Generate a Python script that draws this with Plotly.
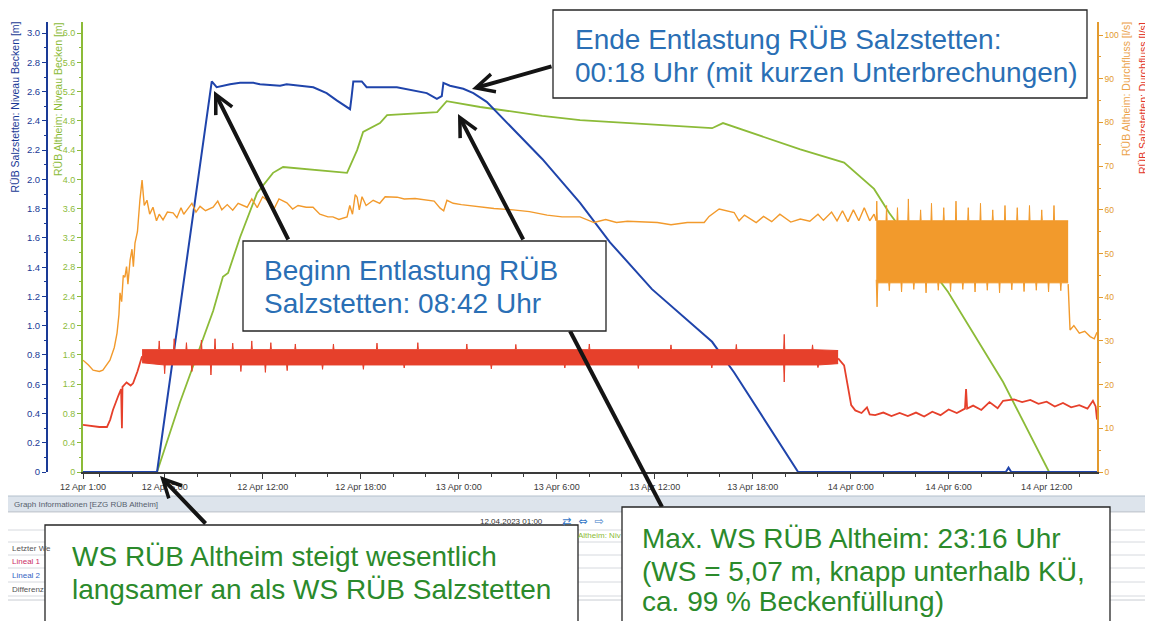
import plotly.graph_objects as go

# values (12.-14.04.2023)

# RÜB Salzstetten: Niveau Becken [m]
salz_level_time = [
    "2023-04-12 01:00", "2023-04-12 05:32", "2023-04-12 08:53", "2023-04-12 09:11",
    "2023-04-12 10:00", "2023-04-12 10:37", "2023-04-12 11:26", "2023-04-12 11:50",
    "2023-04-12 13:04", "2023-04-12 13:28", "2023-04-12 15:06", "2023-04-12 15:55",
    "2023-04-12 16:32", "2023-04-12 17:09", "2023-04-12 17:21", "2023-04-12 17:27",
    "2023-04-12 17:33", "2023-04-12 18:04", "2023-04-12 18:22", "2023-04-12 20:13",
    "2023-04-12 21:14", "2023-04-12 22:03", "2023-04-12 22:40", "2023-04-12 22:58",
    "2023-04-12 23:04", "2023-04-12 23:28", "2023-04-13 00:17", "2023-04-13 00:54",
    "2023-04-13 01:43", "2023-04-13 05:07", "2023-04-13 07:26", "2023-04-13 09:16",
    "2023-04-13 11:50", "2023-04-13 15:31", "2023-04-13 16:52", "2023-04-13 20:47",
    "2023-04-14 09:30", "2023-04-14 09:40", "2023-04-14 09:50", "2023-04-14 15:05",
]
salz_level = [
    0, 0, 2.67, 2.63, 2.65, 2.66, 2.66, 2.65, 2.64, 2.65, 2.63, 2.59, 2.54, 2.49,
    2.48, 2.57, 2.67, 2.67, 2.63, 2.63, 2.61, 2.59, 2.55, 2.57, 2.66, 2.64, 2.62,
    2.59, 2.53, 2.14, 1.84, 1.57, 1.25, 0.89, 0.68, 0, 0, 0.03, 0, 0,
]

# RÜB Altheim: Niveau Becken [m]
alt_level_time = [
    "2023-04-12 01:00", "2023-04-12 05:32", "2023-04-12 06:56", "2023-04-12 08:58",
    "2023-04-12 09:34", "2023-04-12 09:53", "2023-04-12 10:37", "2023-04-12 11:39",
    "2023-04-12 12:38", "2023-04-12 13:15", "2023-04-12 17:10", "2023-04-12 17:47",
    "2023-04-12 18:09", "2023-04-12 19:11", "2023-04-12 19:37", "2023-04-12 22:41",
    "2023-04-12 23:16", "2023-04-13 01:19", "2023-04-13 05:07", "2023-04-13 07:26",
    "2023-04-13 15:31", "2023-04-13 16:11", "2023-04-13 20:55", "2023-04-13 23:36",
    "2023-04-14 01:26", "2023-04-14 02:22", "2023-04-14 05:58", "2023-04-14 09:20",
    "2023-04-14 12:09", "2023-04-14 15:05",
]
alt_level = [
    0, 0, 0.95, 2.2, 2.67, 2.72, 3.21, 3.81, 4.09, 4.17, 4.09, 4.40, 4.65, 4.77,
    4.88, 4.92, 5.07, 4.99, 4.87, 4.81, 4.70, 4.77, 4.41, 4.23, 3.87, 3.54, 2.46,
    1.23, 0, 0,
]

# RÜB Altheim: Durchfluss [l/s] - before the oscillating phase
alt_flow_time = [
    "2023-04-12 01:00", "2023-04-12 01:20", "2023-04-12 01:37", "2023-04-12 02:00",
    "2023-04-12 02:13", "2023-04-12 02:39", "2023-04-12 02:55", "2023-04-12 03:05",
    "2023-04-12 03:12", "2023-04-12 03:16", "2023-04-12 03:22", "2023-04-12 03:28",
    "2023-04-12 03:34", "2023-04-12 03:40", "2023-04-12 03:45", "2023-04-12 03:53",
    "2023-04-12 04:00", "2023-04-12 04:05", "2023-04-12 04:11", "2023-04-12 04:20",
    "2023-04-12 04:29", "2023-04-12 04:37", "2023-04-12 04:45", "2023-04-12 04:55",
    "2023-04-12 05:05", "2023-04-12 05:17", "2023-04-12 05:30", "2023-04-12 05:40",
    "2023-04-12 05:54", "2023-04-12 06:10", "2023-04-12 06:31", "2023-04-12 06:45",
    "2023-04-12 07:00", "2023-04-12 07:10", "2023-04-12 07:22", "2023-04-12 07:40",
    "2023-04-12 07:55", "2023-04-12 08:10", "2023-04-12 08:30", "2023-04-12 08:58",
    "2023-04-12 09:15", "2023-04-12 09:30", "2023-04-12 09:50", "2023-04-12 10:10",
    "2023-04-12 10:30", "2023-04-12 11:03", "2023-04-12 11:20", "2023-04-12 11:40",
    "2023-04-12 12:00", "2023-04-12 12:16", "2023-04-12 12:40", "2023-04-12 13:00",
    "2023-04-12 13:29", "2023-04-12 13:50", "2023-04-12 14:10", "2023-04-12 14:40",
    "2023-04-12 15:05", "2023-04-12 15:30", "2023-04-12 16:00", "2023-04-12 16:18",
    "2023-04-12 16:40", "2023-04-12 17:10", "2023-04-12 17:20", "2023-04-12 17:30",
    "2023-04-12 17:40", "2023-04-12 17:47", "2023-04-12 17:55", "2023-04-12 18:05",
    "2023-04-12 18:20", "2023-04-12 18:46", "2023-04-12 19:10", "2023-04-12 19:30",
    "2023-04-12 20:14", "2023-04-12 20:40", "2023-04-12 21:20", "2023-04-12 22:15",
    "2023-04-12 22:30", "2023-04-12 22:52", "2023-04-12 23:05", "2023-04-12 23:17",
    "2023-04-12 23:40", "2023-04-13 00:10", "2023-04-13 01:19", "2023-04-13 02:10",
    "2023-04-13 03:20", "2023-04-13 04:20", "2023-04-13 05:25", "2023-04-13 06:20",
    "2023-04-13 07:26", "2023-04-13 08:17", "2023-04-13 09:00", "2023-04-13 09:40",
    "2023-04-13 10:20", "2023-04-13 11:30", "2023-04-13 12:10", "2023-04-13 13:00",
    "2023-04-13 14:00", "2023-04-13 15:02", "2023-04-13 15:20", "2023-04-13 15:57",
    "2023-04-13 16:20", "2023-04-13 16:52", "2023-04-13 17:10", "2023-04-13 17:30",
    "2023-04-13 18:13", "2023-04-13 18:40", "2023-04-13 19:10", "2023-04-13 19:40",
    "2023-04-13 20:20", "2023-04-13 20:55", "2023-04-13 21:30", "2023-04-13 22:00",
    "2023-04-13 22:20", "2023-04-13 22:50", "2023-04-13 23:10", "2023-04-13 23:30",
    "2023-04-13 23:50", "2023-04-14 00:10", "2023-04-14 00:30", "2023-04-14 00:50",
    "2023-04-14 01:10", "2023-04-14 01:26", "2023-04-14 01:34",
]
alt_flow = [
    25.6, 24.5, 23.3, 23.0, 23.3, 25.6, 28.5, 31.8, 36, 41.0, 39, 45, 44.6, 47, 43,
    48.5, 51, 47, 52.4, 55, 62.2, 66.8, 61, 62.2, 59, 60.6, 57.5, 59, 57.7, 59.5,
    59.3, 58.2, 60.5, 59, 60.0, 61.5, 59.5, 60.8, 59.8, 60.6, 62, 60, 61.2, 59.9,
    61.5, 60.6, 62.5, 60.5, 63, 62.2, 60, 62.5, 61.6, 60.2, 61, 60.6, 60.6, 59,
    58.4, 58.4, 57.8, 58.4, 61, 59, 63.5, 62.9, 60, 63, 61, 62.2, 61.5, 63, 62.9,
    62.5, 62.6, 62.2, 62, 60.4, 59.8, 62.2, 61.5, 61.2, 60.6, 60.3, 60.0, 59.6,
    58.8, 58.4, 58.4, 57.1, 57.8, 57.1, 57.4, 57.1, 57.1, 56.6, 57.1, 57.1, 58.5,
    60.2, 59.8, 59.4, 57.5, 58.8, 57.1, 58.5, 57.3, 59, 57.2, 57.9, 57.4, 59, 57.6,
    59.5, 57.5, 59.8, 57.3, 60, 57.5, 60.5, 57.5, 59, 57.5,
]

# RÜB Altheim: Durchfluss - oscillating phase, upper / lower envelope
alt_band_hi_time = [
    "2023-04-14 01:34", "2023-04-14 01:36", "2023-04-14 01:38",
    "2023-04-14 02:10", "2023-04-14 02:12", "2023-04-14 02:14",
    "2023-04-14 02:50", "2023-04-14 02:52", "2023-04-14 02:54",
    "2023-04-14 03:30", "2023-04-14 03:32", "2023-04-14 03:34",
    "2023-04-14 04:15", "2023-04-14 04:17", "2023-04-14 04:19",
    "2023-04-14 04:55", "2023-04-14 04:57", "2023-04-14 04:59",
    "2023-04-14 05:40", "2023-04-14 05:42", "2023-04-14 05:44",
    "2023-04-14 06:25", "2023-04-14 06:27", "2023-04-14 06:29",
    "2023-04-14 07:10", "2023-04-14 07:12", "2023-04-14 07:14",
    "2023-04-14 07:55", "2023-04-14 07:57", "2023-04-14 07:59",
    "2023-04-14 08:40", "2023-04-14 08:42", "2023-04-14 08:44",
    "2023-04-14 09:25", "2023-04-14 09:27", "2023-04-14 09:29",
    "2023-04-14 10:10", "2023-04-14 10:12", "2023-04-14 10:14",
    "2023-04-14 10:55", "2023-04-14 10:57", "2023-04-14 10:59",
    "2023-04-14 11:40", "2023-04-14 11:42", "2023-04-14 11:44",
    "2023-04-14 12:25", "2023-04-14 12:27", "2023-04-14 12:29",
    "2023-04-14 13:19",
]
alt_band_hi = [
    57.5, 62, 57.5, 57.5, 61, 57.5, 57.5, 60.5, 57.5, 57.5, 62.5, 57.5,
    57.5, 60, 57.5, 57.5, 61.5, 57.5, 57.5, 60.5, 57.5, 57.5, 62, 57.5,
    57.5, 60.5, 57.5, 57.5, 61.5, 57.5, 57.5, 60, 57.5, 57.5, 61, 57.5,
    57.5, 60.5, 57.5, 57.5, 61, 57.5, 57.5, 60, 57.5, 57.5, 61, 57.5,
    57.5,
]
alt_band_lo_time = [
    "2023-04-14 01:34", "2023-04-14 01:37", "2023-04-14 01:40",
    "2023-04-14 02:20", "2023-04-14 02:22", "2023-04-14 02:24",
    "2023-04-14 03:05", "2023-04-14 03:07", "2023-04-14 03:09",
    "2023-04-14 03:50", "2023-04-14 03:52", "2023-04-14 03:54",
    "2023-04-14 04:35", "2023-04-14 04:37", "2023-04-14 04:39",
    "2023-04-14 05:20", "2023-04-14 05:22", "2023-04-14 05:24",
    "2023-04-14 06:05", "2023-04-14 06:07", "2023-04-14 06:09",
    "2023-04-14 06:50", "2023-04-14 06:52", "2023-04-14 06:54",
    "2023-04-14 07:35", "2023-04-14 07:37", "2023-04-14 07:39",
    "2023-04-14 08:20", "2023-04-14 08:22", "2023-04-14 08:24",
    "2023-04-14 09:05", "2023-04-14 09:07", "2023-04-14 09:09",
    "2023-04-14 09:50", "2023-04-14 09:52", "2023-04-14 09:54",
    "2023-04-14 10:35", "2023-04-14 10:37", "2023-04-14 10:39",
    "2023-04-14 11:20", "2023-04-14 11:22", "2023-04-14 11:24",
    "2023-04-14 12:05", "2023-04-14 12:07", "2023-04-14 12:09",
    "2023-04-14 12:50", "2023-04-14 12:52", "2023-04-14 12:54",
    "2023-04-14 13:19",
]
alt_band_lo = [
    44, 37.8, 43.3, 43.3, 41.5, 43.3, 43.3, 41.2, 43.3, 43.3, 41.8, 43.3,
    43.3, 41, 43.3, 43.3, 41.6, 43.3, 43.3, 41.3, 43.3, 43.3, 41.8, 43.3,
    43.3, 41.2, 43.3, 43.3, 41.6, 43.3, 43.3, 41, 43.3, 43.3, 41.7, 43.3,
    43.3, 41.3, 43.3, 43.3, 41.6, 43.3, 43.3, 41.2, 43.3, 43.3, 41.5, 43.3,
    43.3,
]

# RÜB Altheim: Durchfluss - after the oscillating phase
alt_flow_end_time = [
    "2023-04-14 13:19", "2023-04-14 13:26", "2023-04-14 13:40", "2023-04-14 14:00",
    "2023-04-14 14:20", "2023-04-14 14:40", "2023-04-14 14:55", "2023-04-14 15:05",
]
alt_flow_end = [43, 32.5, 33.5, 31.8, 32.2, 31, 30.5, 32]

# RÜB Salzstetten: Durchfluss [l/s] - start
salz_flow_time = [
    "2023-04-12 01:00", "2023-04-12 01:30", "2023-04-12 02:00", "2023-04-12 02:28",
    "2023-04-12 02:40", "2023-04-12 02:50", "2023-04-12 03:00", "2023-04-12 03:10",
    "2023-04-12 03:20", "2023-04-12 03:23", "2023-04-12 03:25", "2023-04-12 03:40",
    "2023-04-12 03:55", "2023-04-12 04:04", "2023-04-12 04:20", "2023-04-12 04:37",
]
salz_flow = [10.8, 10.5, 10.3, 10.3, 12, 14.2, 16, 17.5, 19, 10, 19.5, 20.5, 19.8, 20.3, 23, 26.5]

# RÜB Salzstetten: Durchfluss - noisy plateau, upper / lower envelope
salz_band_hi_time = [
    "2023-04-12 04:37",
    "2023-04-12 05:38", "2023-04-12 05:40", "2023-04-12 05:42",
    "2023-04-12 06:33", "2023-04-12 06:35", "2023-04-12 06:37",
    "2023-04-12 07:18", "2023-04-12 07:20", "2023-04-12 07:22",
    "2023-04-12 08:13", "2023-04-12 08:15", "2023-04-12 08:17",
    "2023-04-12 09:03", "2023-04-12 09:05", "2023-04-12 09:07",
    "2023-04-12 10:08", "2023-04-12 10:10", "2023-04-12 10:12",
    "2023-04-12 11:18", "2023-04-12 11:20", "2023-04-12 11:22",
    "2023-04-12 12:28", "2023-04-12 12:30", "2023-04-12 12:32",
    "2023-04-12 13:58", "2023-04-12 14:00", "2023-04-12 14:02",
    "2023-04-12 16:18", "2023-04-12 16:20", "2023-04-12 16:22",
    "2023-04-12 18:58", "2023-04-12 19:00", "2023-04-12 19:02",
    "2023-04-12 21:28", "2023-04-12 21:30", "2023-04-12 21:32",
    "2023-04-13 00:28", "2023-04-13 00:30", "2023-04-13 00:32",
    "2023-04-13 03:28", "2023-04-13 03:30", "2023-04-13 03:32",
    "2023-04-13 07:58", "2023-04-13 08:00", "2023-04-13 08:02",
    "2023-04-13 12:58", "2023-04-13 13:00", "2023-04-13 13:02",
    "2023-04-13 16:58", "2023-04-13 17:00", "2023-04-13 17:02",
    "2023-04-13 19:54", "2023-04-13 19:56", "2023-04-13 19:58",
    "2023-04-13 21:38", "2023-04-13 21:40", "2023-04-13 21:42",
    "2023-04-13 23:14",
]
salz_band_hi = [
    28,
    28, 30, 28, 28, 30.5, 28, 28, 29.6, 28, 28, 30.2, 28, 28, 30.5, 28,
    28, 29.5, 28, 28, 30, 28, 28, 29.6, 28, 28, 29.3, 28, 28, 29.3, 28,
    28, 29.5, 28, 28, 29.6, 28, 28, 29.3, 28, 28, 29.2, 28, 28, 29.3, 28,
    28, 29.1, 28, 28, 29.2, 28, 28, 31.5, 28, 28, 29.1, 28,
    27.8,
]
salz_band_lo_time = [
    "2023-04-12 04:37",
    "2023-04-12 05:58", "2023-04-12 06:00", "2023-04-12 06:02",
    "2023-04-12 07:38", "2023-04-12 07:40", "2023-04-12 07:42",
    "2023-04-12 08:48", "2023-04-12 08:50", "2023-04-12 08:52",
    "2023-04-12 10:38", "2023-04-12 10:40", "2023-04-12 10:42",
    "2023-04-12 12:08", "2023-04-12 12:10", "2023-04-12 12:12",
    "2023-04-12 13:28", "2023-04-12 13:30", "2023-04-12 13:32",
    "2023-04-12 15:38", "2023-04-12 15:40", "2023-04-12 15:42",
    "2023-04-12 18:08", "2023-04-12 18:10", "2023-04-12 18:12",
    "2023-04-12 20:38", "2023-04-12 20:40", "2023-04-12 20:42",
    "2023-04-13 01:58", "2023-04-13 02:00", "2023-04-13 02:02",
    "2023-04-13 06:28", "2023-04-13 06:30", "2023-04-13 06:32",
    "2023-04-13 10:58", "2023-04-13 11:00", "2023-04-13 11:02",
    "2023-04-13 15:28", "2023-04-13 15:30", "2023-04-13 15:32",
    "2023-04-13 19:54", "2023-04-13 19:56", "2023-04-13 19:58",
    "2023-04-13 21:58", "2023-04-13 22:00", "2023-04-13 22:02",
    "2023-04-13 23:14",
]
salz_band_lo = [
    25,
    24.5, 22.5, 24.5, 24.5, 23, 24.5, 24.5, 22.2, 24.5, 24.5, 23, 24.5,
    24.5, 22.8, 24.5, 24.5, 23.2, 24.5, 24.5, 23.5, 24.5, 24.5, 23.5, 24.5,
    24.5, 23.8, 24.5, 24.5, 23.6, 24.5, 24.5, 23.8, 24.5, 24.5, 23.7, 24.5,
    24.5, 23.8, 24.5, 24.5, 20.6, 24.5, 24.5, 23.9, 24.5,
    24.8,
]

# RÜB Salzstetten: Durchfluss - after the plateau
salz_flow_end_time = [
    "2023-04-13 23:14", "2023-04-13 23:36", "2023-04-14 00:02", "2023-04-14 00:17",
    "2023-04-14 00:40", "2023-04-14 01:00", "2023-04-14 01:10", "2023-04-14 01:30",
    "2023-04-14 02:00", "2023-04-14 02:30", "2023-04-14 03:00", "2023-04-14 03:30",
    "2023-04-14 04:00", "2023-04-14 04:30", "2023-04-14 05:00", "2023-04-14 05:30",
    "2023-04-14 06:00", "2023-04-14 06:30", "2023-04-14 07:00", "2023-04-14 07:04",
    "2023-04-14 07:08", "2023-04-14 07:30", "2023-04-14 08:00", "2023-04-14 08:30",
    "2023-04-14 09:00", "2023-04-14 09:20", "2023-04-14 10:00", "2023-04-14 10:30",
    "2023-04-14 11:00", "2023-04-14 11:30", "2023-04-14 12:00", "2023-04-14 12:30",
    "2023-04-14 13:00", "2023-04-14 13:30", "2023-04-14 14:00", "2023-04-14 14:30",
    "2023-04-14 14:50", "2023-04-14 15:00", "2023-04-14 15:05",
]
salz_flow_end = [
    26, 24.4, 15.3, 14.1, 13.5, 14.8, 13.2, 13, 13.6, 12.8, 13.5, 12.8, 13.6, 12.7,
    13.8, 13, 14.3, 13.5, 14.5, 19, 14.5, 15.2, 14.2, 16, 14.6, 16.3, 16.6, 16,
    16.5, 15.6, 16.1, 15, 15.8, 14.8, 15.3, 14.5, 16.3, 15, 12,
]

x_tick_time = [
    "2023-04-12 01:00", "2023-04-12 06:00", "2023-04-12 12:00", "2023-04-12 18:00",
    "2023-04-13 00:00", "2023-04-13 06:00", "2023-04-13 12:00", "2023-04-13 18:00",
    "2023-04-14 00:00", "2023-04-14 06:00", "2023-04-14 12:00",
]
x_tick_text = [
    "12 Apr 1:00", "12 Apr 6:00", "12 Apr 12:00", "12 Apr 18:00", "13 Apr 0:00",
    "13 Apr 6:00", "13 Apr 12:00", "13 Apr 18:00", "14 Apr 0:00", "14 Apr 6:00",
    "14 Apr 12:00",
]
salz_tick_text = ["0", "0.2", "0.4", "0.6", "0.8", "1.0", "1.2", "1.4", "1.6", "1.8",
                  "2.0", "2.2", "2.4", "2.6", "2.8", "3.0"]
alt_tick_text = ["0", "0.4", "0.8", "1.2", "1.6", "2.0", "2.4", "2.8", "3.2", "3.6",
                 "4.0", "4.4", "4.8", "5.2", "5.6", "6.0"]
flow_tick_text = ["0", "10", "20", "30", "40", "50", "60", "70", "80", "90", "100"]

BLUE = "#1f44ab"
BLUE_AX = "#1a3a96"
GREEN = "#8cbb38"
ORANGE = "#f29a2c"
ORANGE_AX = "#e39a2e"
RED = "#e6402b"
TXT_BLUE = "#2a6fb5"
TXT_GREEN = "#2b8a2b"
FONT = "Liberation Sans, Arial, sans-serif"

# the page body has an 8 px margin, so the figure is 8 px smaller than the window
PAGE = 8
W, H = 1153 - PAGE, 621 - PAGE
PLOT_L, PLOT_R, PLOT_T, PLOT_B = 83, 1097, 22, 472   # plot area in window pixels


def px_x(px):
    # window pixel -> paper x
    return (px - PAGE) / W


def px_y(py):
    # window pixel -> paper y
    return (PLOT_B - py) / (PLOT_B - PLOT_T)


fig = go.Figure()

# flows first, levels on top
fig.add_trace(go.Scatter(x=alt_flow_time, y=alt_flow, yaxis="y3", mode="lines",
                         line=dict(color=ORANGE, width=1.4)))
fig.add_trace(go.Scatter(x=alt_band_lo_time, y=alt_band_lo, yaxis="y3", mode="lines",
                         line=dict(color=ORANGE, width=1)))
fig.add_trace(go.Scatter(x=alt_band_hi_time, y=alt_band_hi, yaxis="y3", mode="lines",
                         line=dict(color=ORANGE, width=1), fill="tonexty", fillcolor=ORANGE))
fig.add_trace(go.Scatter(x=alt_flow_end_time, y=alt_flow_end, yaxis="y3", mode="lines",
                         line=dict(color=ORANGE, width=1.4)))

fig.add_trace(go.Scatter(x=salz_flow_time, y=salz_flow, yaxis="y3", mode="lines",
                         line=dict(color=RED, width=1.8)))
fig.add_trace(go.Scatter(x=salz_band_lo_time, y=salz_band_lo, yaxis="y3", mode="lines",
                         line=dict(color=RED, width=1)))
fig.add_trace(go.Scatter(x=salz_band_hi_time, y=salz_band_hi, yaxis="y3", mode="lines",
                         line=dict(color=RED, width=1), fill="tonexty", fillcolor=RED))
fig.add_trace(go.Scatter(x=salz_flow_end_time, y=salz_flow_end, yaxis="y3", mode="lines",
                         line=dict(color=RED, width=1.8)))

fig.add_trace(go.Scatter(x=alt_level_time, y=alt_level, yaxis="y", mode="lines",
                         line=dict(color=GREEN, width=1.8)))
fig.add_trace(go.Scatter(x=salz_level_time, y=salz_level, yaxis="y2", mode="lines",
                         line=dict(color=BLUE, width=2)))

shapes = []
annotations = []

# bottom info panel of the scanned software window
shapes.append(dict(type="rect", xref="paper", yref="paper", x0=px_x(4), x1=px_x(1150),
                   y0=px_y(496), y1=px_y(512), fillcolor="#dde4ec", line=dict(color="#b4c0cc", width=1)))
shapes.append(dict(type="rect", xref="paper", yref="paper", x0=px_x(4), x1=px_x(1150),
                   y0=px_y(512), y1=px_y(600), fillcolor="white", line=dict(color="#c8ccd2", width=1)))
for row_y in [530, 542, 555, 568, 582, 596]:
    shapes.append(dict(type="line", xref="paper", yref="paper", x0=px_x(4), x1=px_x(1150),
                       y0=px_y(row_y), y1=px_y(row_y), line=dict(color="#d6d9de", width=1)))
shapes.append(dict(type="line", xref="paper", yref="paper", x0=px_x(572), x1=px_x(572),
                   y0=px_y(530), y1=px_y(600), line=dict(color="#444", width=1)))

panel_texts = [
    ("Graph Informationen [EZG RÜB Altheim]", 12, 504, "#56606c"),
    ("12.04.2023 01:00", 478, 521, "#333"),
    ("Letzter We", 10, 548, "#555"),
    ("Lineal 1", 10, 561, "#cc2f66"),
    ("Lineal 2", 10, 575, "#3564c4"),
    ("Differenz", 10, 589, "#555"),
    ("Altheim: Niv", 576, 535, "#8cbb38"),
]
for txt, x, y, col in panel_texts:
    annotations.append(dict(text=txt, xref="paper", yref="paper", x=px_x(x), y=px_y(y),
                            xanchor="left", yanchor="middle", showarrow=False,
                            font=dict(size=8, color=col, family=FONT)))
annotations.append(dict(text="⇄  ⇔  ⇨", xref="paper", yref="paper", x=px_x(560), y=px_y(521),
                        xanchor="left", yanchor="middle", showarrow=False,
                        font=dict(size=11, color="#3a7ac8", family="DejaVu Sans")))

# axis titles (rotated, aligned to the top like in the original)
axis_titles = [
    ("RÜB Salzstetten: Niveau Becken [m]", 15, BLUE_AX),
    ("RÜB Altheim: Niveau Becken [m]", 58, GREEN),
    ("RÜB Altheim: Durchfluss [l/s]", 1126, "#eba24a"),
    ("RÜB Salzstetten: Durchfluss [l/s]", 1143, "#e2382a"),
]
for txt, x, col in axis_titles:
    annotations.append(dict(text=txt, xref="paper", yref="paper", x=px_x(x), y=px_y(20),
                            xanchor="center", yanchor="top", textangle=-90, showarrow=False,
                            font=dict(size=10.5, color=col, family=FONT)))

# arrows (tip, tail) in window pixels
arrows = [
    ((214, 91), (289, 241)),
    ((458, 114), (524, 241)),
    ((472, 89), (553, 66)),
    ((160, 476), (207, 525)),
]
for (tx, ty), (sx, sy) in arrows:
    annotations.append(dict(text="", xref="paper", yref="paper", x=px_x(tx), y=px_y(ty),
                            ax=sx - tx, ay=sy - ty, showarrow=True, arrowhead=5,
                            arrowsize=0.9, arrowwidth=4, arrowcolor="#141414", standoff=0))
# lower part of the long arrow, hidden behind the "Beginn" box
shapes.append(dict(type="line", xref="paper", yref="paper", x0=px_x(570), y0=px_y(331),
                   x1=px_x(662), y1=px_y(507), line=dict(color="#141414", width=4)))

# callout boxes
boxes = [(553, 10, 1087, 98), (243, 241, 606, 331), (45, 525, 578, 640), (622, 507, 1110, 640)]
for x0, y0, x1, y1 in boxes:
    shapes.append(dict(type="rect", xref="paper", yref="paper", x0=px_x(x0), x1=px_x(x1),
                       y0=px_y(y0), y1=px_y(y1), fillcolor="white",
                       line=dict(color="#262626", width=1.3)))

box_lines = [
    ("Ende Entlastung RÜB Salzstetten:", 573, 39, TXT_BLUE),
    ("00:18 Uhr (mit kurzen Unterbrechungen)", 573, 72, TXT_BLUE),
    ("Beginn Entlastung RÜB", 262, 270, TXT_BLUE),
    ("Salzstetten: 08:42 Uhr", 262, 303, TXT_BLUE),
    ("WS RÜB Altheim steigt wesentlich", 70, 556, TXT_GREEN),
    ("langsamer an als WS RÜB Salzstetten", 70, 589, TXT_GREEN),
    ("Max. WS RÜB Altheim: 23:16 Uhr", 640, 538, TXT_GREEN),
    ("(WS = 5,07 m, knapp unterhalb KÜ,", 640, 571, TXT_GREEN),
    ("ca. 99 % Beckenfüllung)", 640, 602, TXT_GREEN),
]
for txt, x, y, col in box_lines:
    annotations.append(dict(text=txt, xref="paper", yref="paper", x=px_x(x), y=px_y(y),
                            xanchor="left", yanchor="middle", showarrow=False,
                            font=dict(size=28, color=col, family=FONT)))

fig.update_layout(
    width=W,
    height=H,
    margin=dict(l=0, r=0, t=PLOT_T - PAGE, b=H - (PLOT_B - PAGE), autoexpand=False),
    paper_bgcolor="white",
    plot_bgcolor="white",
    showlegend=False,
    font=dict(family=FONT),
    xaxis=dict(
        domain=[px_x(PLOT_L), px_x(PLOT_R)],
        type="date",
        range=["2023-04-12 01:00", "2023-04-14 15:05"],
        tickmode="array", tickvals=x_tick_time, ticktext=x_tick_text,
        tickfont=dict(size=9, color="#3a3a3a"),
        showline=True, linecolor="#3a3a3a", linewidth=1.5,
        ticks="outside", ticklen=5, tickcolor="#3a3a3a",
        minor=dict(ticks="outside", ticklen=3, tickcolor="#3a3a3a",
                   dtick=2 * 3600 * 1000, tick0="2023-04-12 00:00"),
        showgrid=False, zeroline=False, automargin=False,
    ),
    yaxis=dict(
        range=[0, 6.152],
        tickmode="array", tickvals=[float(t) for t in alt_tick_text], ticktext=alt_tick_text,
        tickfont=dict(size=9, color=GREEN),
        showline=True, linecolor=GREEN, linewidth=2,
        ticks="outside", ticklen=4, tickcolor=GREEN,
        minor=dict(ticks="outside", ticklen=2, tickcolor=GREEN, dtick=0.2),
        showgrid=False, zeroline=False, automargin=False,
    ),
    yaxis2=dict(
        overlaying="y", anchor="free", position=px_x(47), side="left",
        range=[0, 3.076],
        tickmode="array", tickvals=[float(t) for t in salz_tick_text], ticktext=salz_tick_text,
        tickfont=dict(size=9.5, color=BLUE_AX),
        showline=True, linecolor=BLUE_AX, linewidth=2,
        ticks="outside", ticklen=4, tickcolor=BLUE_AX,
        minor=dict(ticks="outside", ticklen=2, tickcolor=BLUE_AX, dtick=0.1),
        showgrid=False, zeroline=False, automargin=False,
    ),
    yaxis3=dict(
        overlaying="y", anchor="x", side="right",
        range=[0, 103],
        tickmode="array", tickvals=[float(t) for t in flow_tick_text], ticktext=flow_tick_text,
        tickfont=dict(size=8.5, color=ORANGE_AX),
        showline=True, linecolor=ORANGE_AX, linewidth=1.5,
        ticks="outside", ticklen=4, tickcolor=ORANGE_AX,
        minor=dict(ticks="outside", ticklen=2, tickcolor=ORANGE_AX, dtick=5),
        showgrid=False, zeroline=False, automargin=False,
    ),
    shapes=shapes,
    annotations=annotations,
)

fig.write_html("out.html")
